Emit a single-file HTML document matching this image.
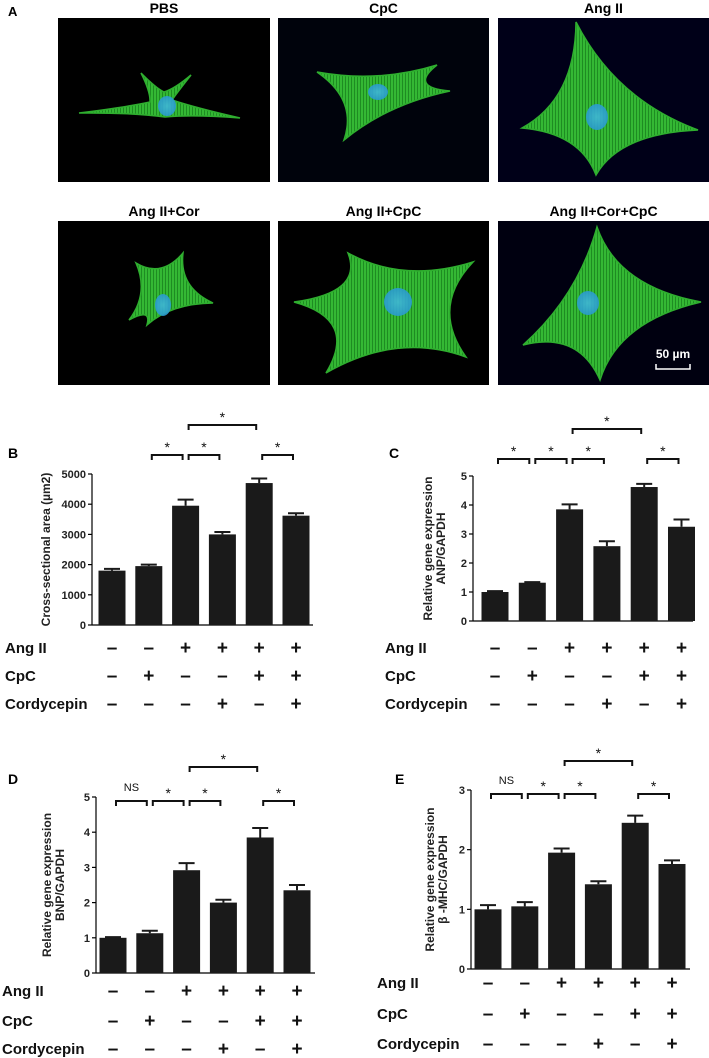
<!DOCTYPE html>
<html><head><meta charset="utf-8"><style>
html,body{margin:0;padding:0;background:#fff;}
svg{display:block;font-family:"Liberation Sans",Arial,sans-serif;}
</style></head><body>
<svg id="fig" width="709" height="1058" viewBox="0 0 709 1058" xmlns="http://www.w3.org/2000/svg">
<defs>
<radialGradient id="nuc"><stop offset="0" stop-color="#40b8d8"/><stop offset="1" stop-color="#2a9ad0"/></radialGradient>
<pattern id="stri" width="3" height="3" patternUnits="userSpaceOnUse"><rect width="3" height="3" fill="#34b834"/><rect width="1" height="3" fill="#1e8c22"/></pattern>
</defs>
<g id="panelA"></g>
<g id="charts"></g>
</svg>
<script>
const NS='http://www.w3.org/2000/svg';
function mk(tag,attrs,parent,text){const e=document.createElementNS(NS,tag);for(const k in attrs)e.setAttribute(k,attrs[k]);if(text!==undefined)e.textContent=text;parent.appendChild(e);return e;}

// ---------- Panel A micrographs ----------
const A=document.getElementById('panelA');
const at=mk('text',{x:8,y:16,'font-size':13,'font-weight':'bold'},A,'A');


const imgs=[
 {t:'PBS',x:58,y:18,w:212,h:164,bg:'#000000',tips:[[79,113],[150,102],[141,73],[164,92],[191,75],[172,100],[240,118],[165,117]],c:[166,105],pull:0.25,n:[167,106,9,10]},
 {t:'CpC',x:278,y:18,w:211,h:164,bg:'#00030c',tips:[[317,72],[437,65],[450,91],[344,140]],c:[380,95],pull:0.55,n:[378,92,10,8]},
 {t:'Ang II',x:498,y:18,w:211,h:164,bg:'#000018',tips:[[576,22],[698,130],[596,175],[522,128]],c:[597,118],pull:0.55,n:[597,117,11,13]},
 {t:'Ang II+Cor',x:58,y:221,w:212,h:164,bg:'#000000',tips:[[136,263],[183,253],[213,303],[147,325],[129,320]],c:[163,295],pull:0.55,n:[163,305,8,11]},
 {t:'Ang II+CpC',x:278,y:221,w:211,h:164,bg:'#000000',tips:[[348,253],[473,262],[466,357],[326,373],[294,302]],c:[398,305],pull:0.55,n:[398,302,14,14]},
 {t:'Ang II+Cor+CpC',x:498,y:221,w:211,h:164,bg:'#000010',tips:[[597,227],[701,302],[600,380],[523,345]],c:[592,305],pull:0.55,n:[588,303,11,12]}
];
imgs.forEach((im,i)=>{
  const g=mk('g',{},A);
  
  
  mk('rect',{x:im.x,y:im.y,width:im.w,height:im.h,fill:im.bg},g);
  let d='';const tp=im.tips,c=im.c;
  for(let k=0;k<tp.length;k++){
    const p=tp[k],q=tp[(k+1)%tp.length];
    const mx=(p[0]+q[0])/2,my=(p[1]+q[1])/2;
    const cx=mx+(c[0]-mx)*im.pull,cy=my+(c[1]-my)*im.pull;
    if(k===0)d+='M'+p[0]+','+p[1];
    d+=' Q'+cx.toFixed(1)+','+cy.toFixed(1)+' '+q[0]+','+q[1];
  }
  const cell=mk('path',{d:d+'Z',fill:'url(#stri)',stroke:'#2fae2f','stroke-width':1.5},g);
  
  
  const nu=mk('ellipse',{cx:im.n[0],cy:im.n[1],rx:im.n[2],ry:im.n[3],fill:'url(#nuc)',opacity:0.9},g);
  
  
  const lt=mk('text',{x:im.x+im.w/2,y:im.y-5,'font-size':14,'font-weight':'bold','text-anchor':'middle'},A,im.t);
  
  
});
const sb=mk('g',{},A);


mk('text',{x:673,y:358,'font-size':12,'font-weight':'bold','text-anchor':'middle',fill:'#fff'},sb,'50 µm');
mk('path',{d:'M656,364 V369 H690 V364',stroke:'#fff','stroke-width':1.5,fill:'none'},sb);

// ---------- Chart data ----------
const angII=['-','-','+','+','+','+'];
const cpc=['-','+','-','-','+','+'];
const cord=['-','-','-','+','-','+'];
const bMeans=[1800,1950,3950,3000,4700,3620];
const bErr=[60,50,200,80,150,80];
const bTicks=[0,1000,2000,3000,4000,5000];
const cMeans=[1.0,1.32,3.85,2.58,4.62,3.25];
const cErr=[0.03,0.02,0.17,0.17,0.11,0.25];
const cTicks=[0,1,2,3,4,5];
const dMeans=[1.0,1.13,2.92,2.0,3.85,2.35];
const dErr=[0.02,0.07,0.2,0.08,0.27,0.15];
const dTicks=[0,1,2,3,4,5];
const eMeans=[1.0,1.05,1.95,1.42,2.45,1.76];
const eErr=[0.07,0.07,0.07,0.05,0.12,0.06];
const eTicks=[0,1,2,3];

const panels=[
 {id:'b',L:'B',lx:8,ly:458,ax:92,ax2:313,y0:625,y1:474,max:5000,m:bMeans,e:bErr,ticks:bTicks,
  title:['Cross-sectional area (µm2)'],tx:[50],rowx:5,rows:[653,681,709],
  br:[[1,2,455,'*'],[2,3,455,'*'],[4,5,455,'*'],[2,4,425,'*']],x0:112,dx:36.8},
 {id:'c',L:'C',lx:389,ly:458,ax:473,ax2:693,y0:621,y1:476,max:5,m:cMeans,e:cErr,ticks:cTicks,
  title:['Relative gene expression','ANP/GAPDH'],tx:[432,445],rowx:385,rows:[653,681,709],
  br:[[0,1,459,'*'],[1,2,459,'*'],[2,3,459,'*'],[4,5,459,'*'],[2,4,429,'*']],x0:495,dx:37.3},
 {id:'d',L:'D',lx:8,ly:784,ax:96,ax2:315,y0:973,y1:797,max:5,m:dMeans,e:dErr,ticks:dTicks,
  title:['Relative gene expression','BNP/GAPDH'],tx:[51,64],rowx:2,rows:[996,1026,1054],
  br:[[0,1,801,'NS'],[1,2,801,'*'],[2,3,801,'*'],[4,5,801,'*'],[2,4,767,'*']],x0:113,dx:36.8},
 {id:'e',L:'E',lx:395,ly:784,ax:471,ax2:690,y0:969,y1:790,max:3,m:eMeans,e:eErr,ticks:eTicks,
  title:['Relative gene expression','β -MHC/GAPDH'],tx:[434,447],rowx:377,rows:[988,1019,1049],
  br:[[0,1,794,'NS'],[1,2,794,'*'],[2,3,794,'*'],[4,5,794,'*'],[2,4,761,'*']],x0:488,dx:36.8}
];
const C=document.getElementById('charts');
panels.forEach(p=>{
  const g=mk('g',{},C);
  
  
  const yS=v=>p.y0-(v/p.max)*(p.y0-p.y1);
  const xS=i=>p.x0+i*p.dx;
  const bw=27;
  const pl=mk('text',{x:p.lx,y:p.ly,'font-size':14,'font-weight':'bold'},g,p.L);
  
  
  const ya=mk('line',{x1:p.ax,y1:p.y1,x2:p.ax,y2:p.y0,stroke:'#000','stroke-width':1.2},g);
  
  
  const xa=mk('line',{x1:p.ax,y1:p.y0,x2:p.ax2,y2:p.y0,stroke:'#000','stroke-width':1.2},g);
  
  
  p.ticks.forEach(t=>{
    const y=yS(t);
    mk('line',{x1:p.ax-4,y1:y,x2:p.ax,y2:y,stroke:'#000','stroke-width':1.2},g);
    const tl=mk('text',{x:p.ax-6,y:y+4,'font-size':11,'font-weight':'bold','text-anchor':'end',fill:'#222'},g,String(t));
    
    
  });
  const cy=(p.y0+p.y1)/2;
  p.title.forEach((s,k)=>{
    const tt=mk('text',{x:p.tx[k],y:cy,'font-size':12,'font-weight':'bold','text-anchor':'middle',fill:'#222',transform:'rotate(-90 '+p.tx[k]+' '+cy+')'},g,s);
    
    
  });
  p.m.forEach((v,i)=>{
    const x=xS(i);
    const r=mk('rect',{x:x-bw/2,y:yS(v),width:bw,height:p.y0-yS(v),fill:'#1a1a1a'},g);
    
    
    const ey=yS(v+p.e[i]);
    const eb=mk('path',{d:'M'+x+','+yS(v)+' V'+ey+' M'+(x-8)+','+ey+' H'+(x+8),stroke:'#1a1a1a','stroke-width':2,fill:'none'},g);
    
    
  });
  p.br.forEach(b=>{
    const xa1=xS(b[0])+3,xb=xS(b[1])-3,y=b[2];
    const bp=mk('path',{d:'M'+xa1+','+(y+5)+' V'+y+' H'+xb+' V'+(y+5),stroke:'#111','stroke-width':2,fill:'none'},g);
    
    
    const st=mk('text',{x:(xa1+xb)/2,y:b[3]==='NS'?y-10:y-3,'font-size':b[3]==='NS'?11:14,'text-anchor':'middle',fill:'#111'},g,b[3]);
    
    
  });
  const names=['Ang II','CpC','Cordycepin'];const vals=[angII,cpc,cord];
  names.forEach((n,r)=>{
    const rl=mk('text',{x:p.rowx,y:p.rows[r],'font-size':15,'font-weight':'bold',fill:'#111'},g,n);
    
    
    vals[r].forEach((s,i)=>{
      const sy=mk('text',{x:xS(i),y:p.rows[r]+1,'font-size':19,'font-weight':'bold','text-anchor':'middle',fill:'#111'},g,s==='+'?'+':'–');
      
      
    });
  });
});
</script>
</body></html>
